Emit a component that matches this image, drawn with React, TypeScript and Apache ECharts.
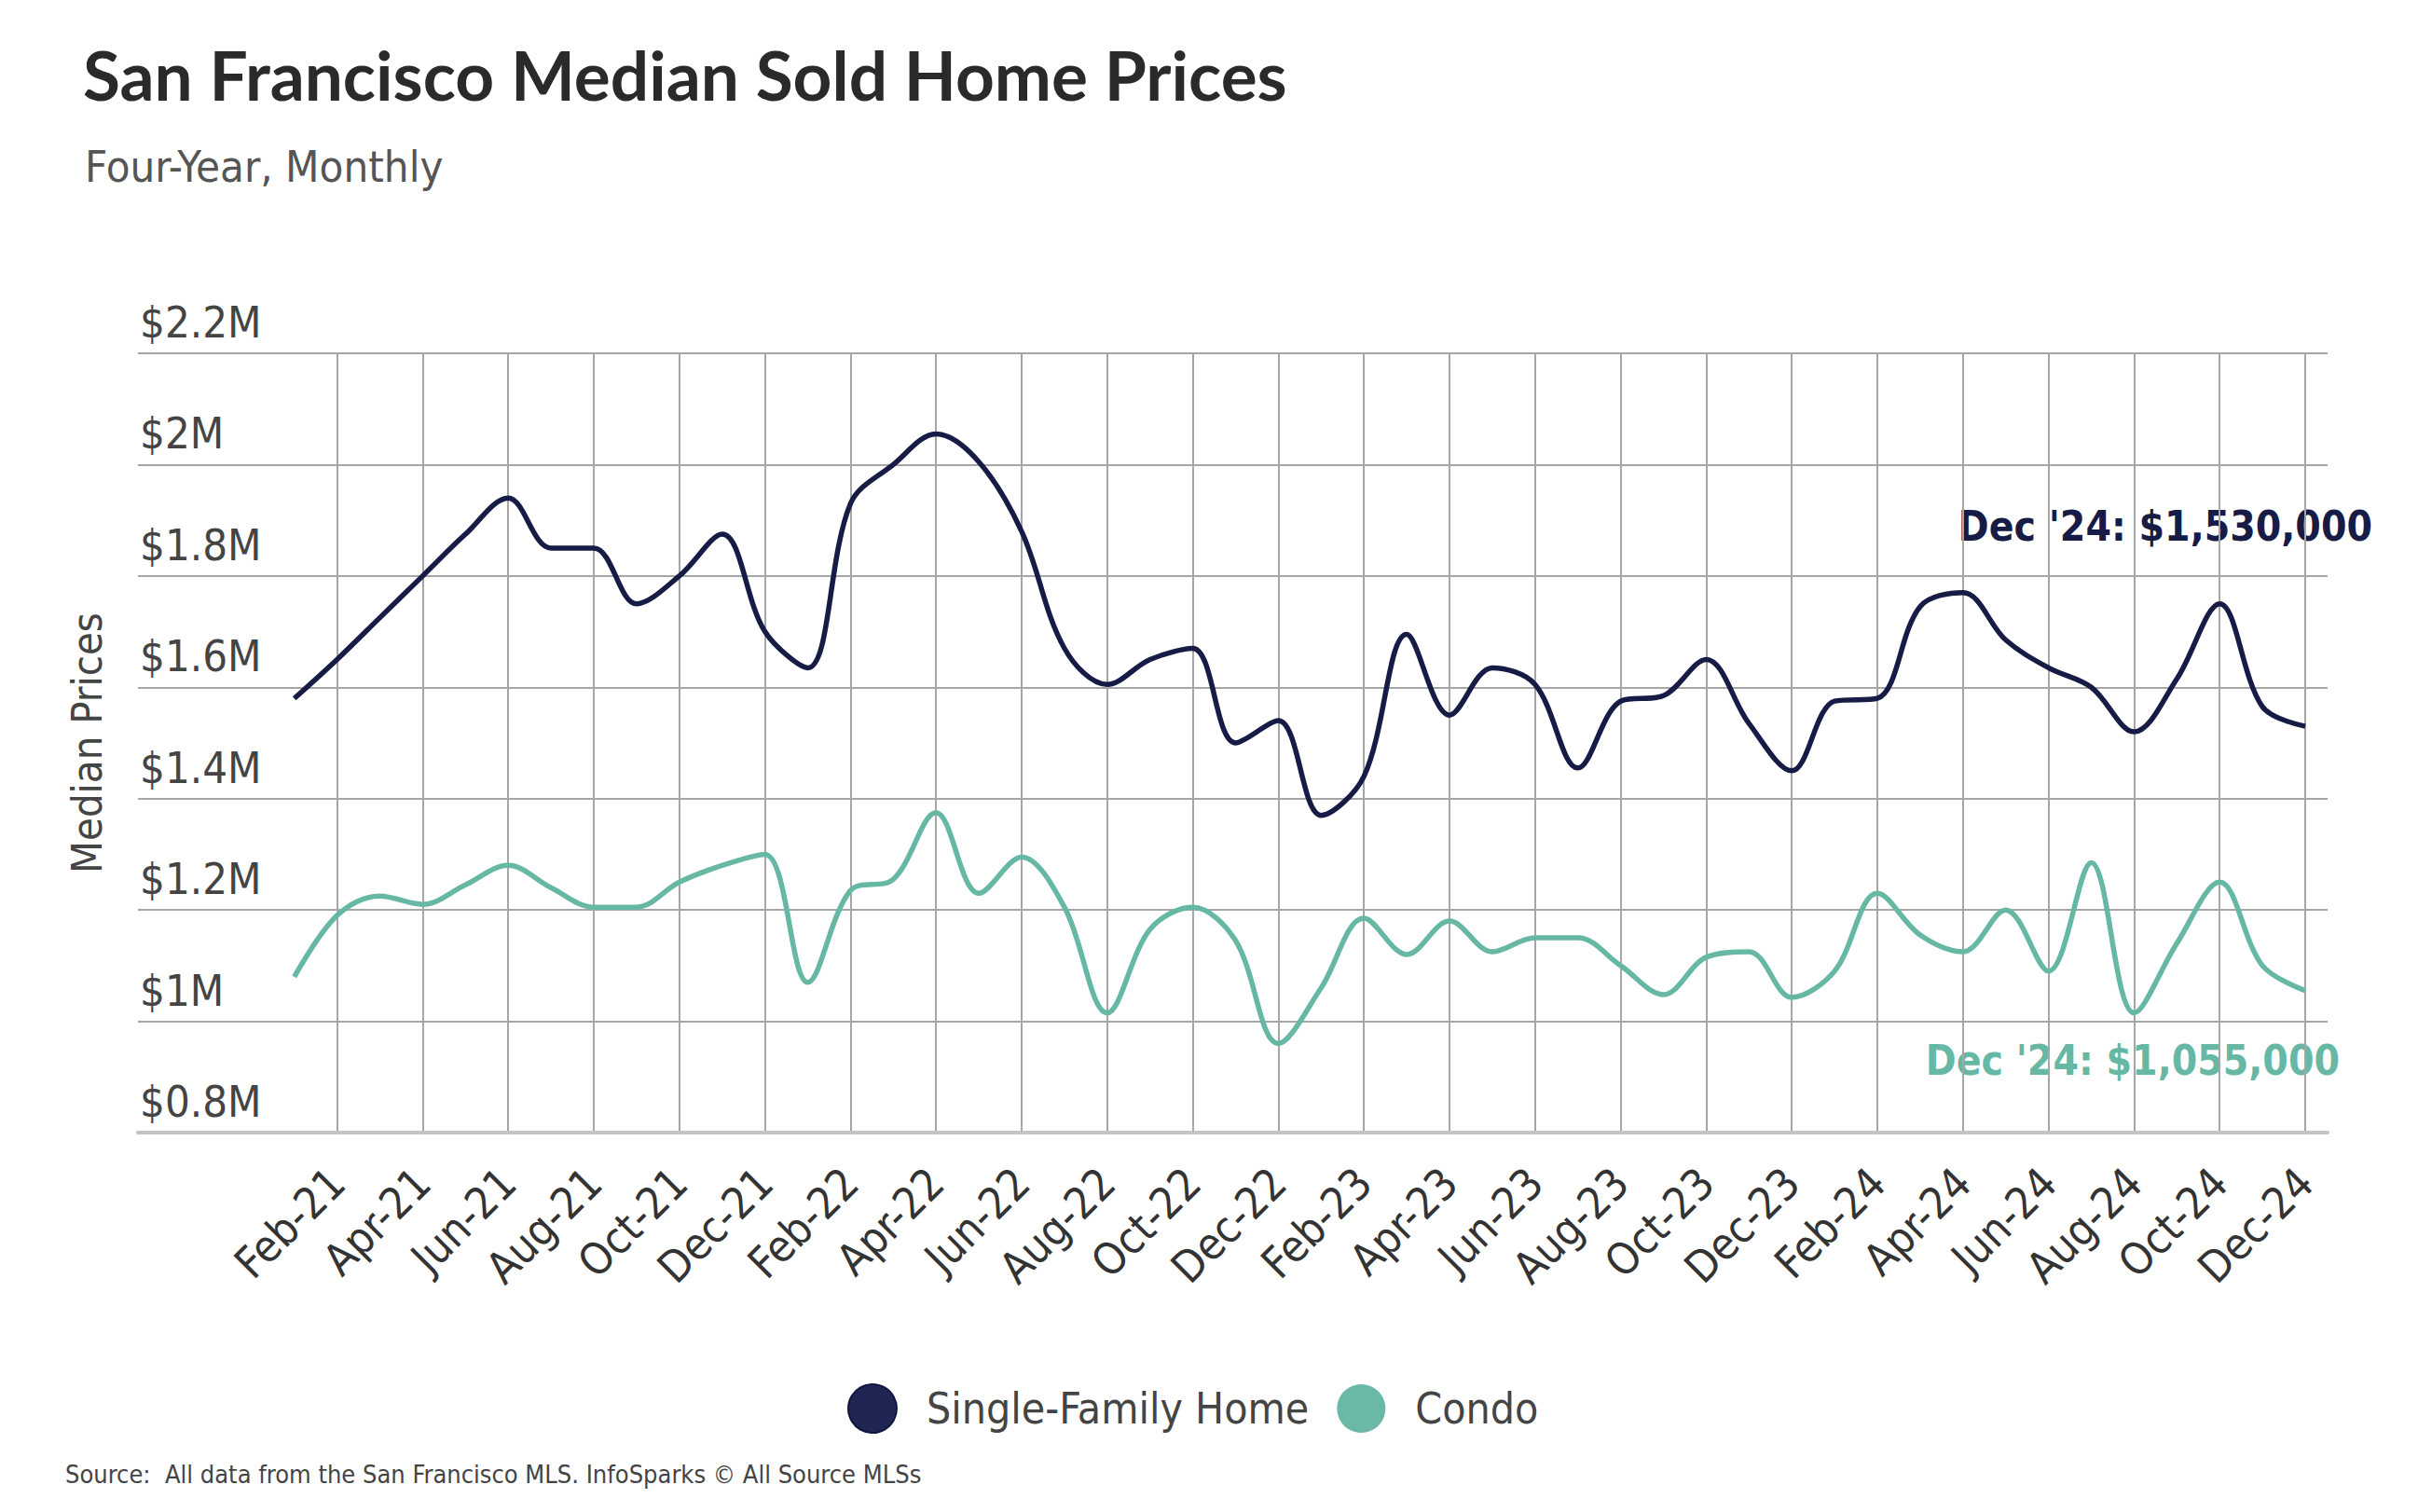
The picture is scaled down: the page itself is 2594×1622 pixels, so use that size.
import React, { useEffect, useRef } from "react";
import * as echarts from "echarts";

const months = [
  "Jan-21", "Feb-21", "Mar-21", "Apr-21", "May-21", "Jun-21", "Jul-21", "Aug-21", "Sep-21", "Oct-21", "Nov-21", "Dec-21",
  "Jan-22", "Feb-22", "Mar-22", "Apr-22", "May-22", "Jun-22", "Jul-22", "Aug-22", "Sep-22", "Oct-22", "Nov-22", "Dec-22",
  "Jan-23", "Feb-23", "Mar-23", "Apr-23", "May-23", "Jun-23", "Jul-23", "Aug-23", "Sep-23", "Oct-23", "Nov-23", "Dec-23",
  "Jan-24", "Feb-24", "Mar-24", "Apr-24", "May-24", "Jun-24", "Jul-24", "Aug-24", "Sep-24", "Oct-24", "Nov-24", "Dec-24",
];

const singleFamilyHome = [
  1580000, 1650000, 1725000, 1800000, 1875000, 1940000, 1850000, 1850000, 1750000, 1800000, 1875000, 1700000,
  1635000, 1930000, 2000000, 2055000, 2005000, 1880000, 1670000, 1605000, 1650000, 1670000, 1500000, 1540000,
  1370000, 1440000, 1695000, 1550000, 1635000, 1605000, 1455000, 1575000, 1585000, 1650000, 1535000, 1450000,
  1575000, 1580000, 1745000, 1770000, 1685000, 1635000, 1600000, 1520000, 1615000, 1750000, 1565000, 1530000,
];

const condo = [
  1080000, 1190000, 1225000, 1210000, 1245000, 1280000, 1240000, 1205000, 1205000, 1250000, 1280000, 1300000,
  1070000, 1235000, 1255000, 1375000, 1230000, 1295000, 1205000, 1015000, 1165000, 1205000, 1145000, 960000,
  1060000, 1185000, 1120000, 1180000, 1125000, 1150000, 1150000, 1100000, 1048000, 1115000, 1125000, 1043000,
  1090000, 1230000, 1155000, 1125000, 1200000, 1090000, 1285000, 1015000, 1140000, 1250000, 1100000, 1055000,
];

const yMin = 800000;
const yMax = 2200000;
const yStep = 200000;

const titleText = "San Francisco Median Sold Home Prices";
const subtitleText = "Four-Year, Monthly";
const yAxisTitle = "Median Prices";
const sourceText = "Source:  All data from the San Francisco MLS. InfoSparks \u00A9 All Source MLSs";
const sfhLabel = "Dec '24: $1,530,000";
const condoLabel = "Dec '24: $1,055,000";

const NARROW = "'Liberation Sans Narrow', 'DejaVu Sans Condensed', sans-serif";
const NAVY = "#161c45";
const NAVY_LEGEND = "#1f2653";
const TEAL = "#66b8a5";
const GRID = "#a6a6a6";

export default function App() {
  const ref = useRef<HTMLDivElement>(null);

  useEffect(() => {
    document.body.style.margin = "0";
    if (!ref.current) return;
    const chart = echarts.init(ref.current, null, { renderer: "svg" });
    const showOdd = (i: number) => i % 2 === 1;
    const fmt = (v: number) => "$" + parseFloat((v / 1e6).toFixed(1)) + "M";

    chart.setOption({
      animation: false,
      backgroundColor: "#ffffff",
      title: [
        {
          text: titleText,
          left: 84,
          top: 38,
          textStyle: { fontFamily: "Lato, sans-serif", fontWeight: "bold", fontSize: 73, color: "#2a2a2a" },
        },
        {
          text: subtitleText,
          left: 86,
          top: 150,
          textStyle: { fontFamily: NARROW, fontWeight: "normal", fontSize: 47, color: "#555555" },
        },
      ],
      legend: {
        left: 904,
        top: 1479,
        icon: "circle",
        itemWidth: 52,
        itemHeight: 52,
        itemGap: 30,
        textStyle: { fontFamily: NARROW, fontSize: 46, color: "#444444", padding: [0, 0, 0, 27] },
        data: [
          { name: "Single-Family Home", itemStyle: { color: NAVY_LEGEND, borderColor: "#0f1640", borderWidth: 2 } },
          { name: "Condo", itemStyle: { color: "#6ab9a7" } },
        ],
      },
      grid: [
        { left: 148, right: 97, top: 379, bottom: 407, containLabel: false },
        { left: 315.7, right: 121, top: 379, bottom: 407, containLabel: false },
      ],
      xAxis: [
        {
          gridIndex: 0,
          type: "value",
          min: 0,
          max: 1,
          axisLine: { show: true, lineStyle: { color: "#c4c4c4", width: 4 } },
          axisTick: { show: false },
          axisLabel: { show: false },
          splitLine: { show: false },
        },
        {
          gridIndex: 1,
          type: "category",
          data: months,
          boundaryGap: false,
          axisLine: { show: false },
          axisTick: { show: false },
          axisLabel: {
            interval: showOdd,
            rotate: 45,
            margin: 46,
            fontFamily: NARROW,
            fontSize: 47,
            color: "#333333",
          },
          splitLine: { show: true, interval: showOdd, lineStyle: { color: GRID, width: 2 } },
        },
      ],
      yAxis: [
        {
          gridIndex: 0,
          type: "value",
          min: yMin,
          max: yMax,
          interval: yStep,
          name: yAxisTitle,
          nameLocation: "middle",
          nameRotate: 90,
          nameGap: 32,
          nameTextStyle: { fontFamily: NARROW, fontSize: 45, color: "#444444" },
          axisLine: { show: false },
          axisTick: { show: false },
          axisLabel: {
            inside: true,
            margin: 2,
            verticalAlign: "bottom",
            padding: [0, 0, 10, 0],
            formatter: fmt,
            fontFamily: NARROW,
            fontSize: 47,
            color: "#444444",
          },
          splitLine: { show: true, lineStyle: { color: GRID, width: 2 } },
        },
        {
          gridIndex: 1,
          type: "value",
          min: yMin,
          max: yMax,
          interval: yStep,
          show: false,
          splitLine: { show: false },
        },
      ],
      series: [
        {
          name: "Single-Family Home",
          type: "line",
          xAxisIndex: 1,
          yAxisIndex: 1,
          data: singleFamilyHome,
          smooth: 0.35,
          symbol: "none",
          color: NAVY,
          lineStyle: { color: NAVY, width: 5.5 },
          z: 3,
        },
        {
          name: "Condo",
          type: "line",
          xAxisIndex: 1,
          yAxisIndex: 1,
          data: condo,
          smooth: 0.35,
          symbol: "none",
          color: "#6ab9a7",
          lineStyle: { color: TEAL, width: 5.5 },
          z: 3,
        },
      ],
      graphic: [
        {
          type: "text",
          x: 2545,
          y: 564,
          style: {
            text: sfhLabel,
            fill: NAVY,
            font: "bold 44px " + NARROW,
            textAlign: "right",
            textVerticalAlign: "middle",
          },
        },
        {
          type: "text",
          x: 2510,
          y: 1137,
          style: {
            text: condoLabel,
            fill: TEAL,
            font: "bold 44px " + NARROW,
            textAlign: "right",
            textVerticalAlign: "middle",
          },
        },
        {
          type: "text",
          x: 70,
          y: 1581,
          style: {
            text: sourceText,
            fill: "#444444",
            font: "27px " + NARROW,
            textAlign: "left",
            textVerticalAlign: "middle",
          },
        },
      ],
    });

    return () => chart.dispose();
  }, []);

  return <div ref={ref} style={{ width: 2594, height: 1622 }} />;
}
